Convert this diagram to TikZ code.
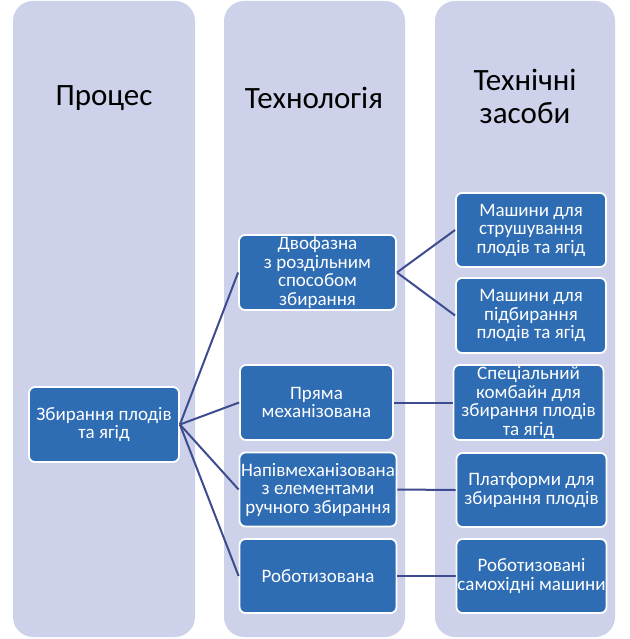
\documentclass[tikz,border=0pt]{standalone}
\usepackage{fontspec}
\setmainfont{Carlito}
\definecolor{colbg}{HTML}{CDD2EA}
\definecolor{boxbg}{HTML}{2E6CB3}
\definecolor{linec}{HTML}{3D4C8E}
\begin{document}
\begin{tikzpicture}[x=1pt,y=-1pt,
  column/.style={fill=colbg, draw=none, rounded corners=20pt},
  header/.style={align=center, font=\fontsize{31}{33}\selectfont, text=black},
  box/.style={draw=white, line width=1.8pt, fill=boxbg, rounded corners=6pt, text=white,
    align=center, font=\fontsize{19}{18.5}\selectfont, inner sep=0pt},
  link/.style={draw=linec, line width=2pt}]
\useasboundingbox (0,0) rectangle (629,639);
\fill[white] (0,0) rectangle (629,639);
% columns
\path[column] (13,1) rectangle (195,637);
\path[column] (224,1) rectangle (405,637);
\path[column] (435,1) rectangle (615,637);
% headers
\node[header] (h1) at (104,98) {Процес};
\node[header] (h2) at (314,98) {Технологія};
\node[header] (h3) at (525,96) {Технічні\\засоби};
% boxes
\node[box, minimum width=150pt, minimum height=75pt] (proc) at (104,424.5) {Збирання плодів\\та ягід};
\node[box, minimum width=157pt, minimum height=75pt] (dvo) at (317.5,272.5) {Двофазна\\з роздільним\\способом\\збирання};
\node[box, minimum width=153pt, minimum height=75pt] (pr) at (316.5,402.5) {Пряма\\механізована};
\node[box, minimum width=157pt, minimum height=74pt] (nap) at (318,489.5) {Напівмеханізована\\з елементами\\ручного збирання};
\node[box, minimum width=157pt, minimum height=74pt] (rob) at (318,576) {Роботизована};
\node[box, minimum width=150pt, minimum height=74pt] (m1) at (531,230) {Машини для\\струшування\\плодів та ягід};
\node[box, minimum width=150pt, minimum height=75pt] (m2) at (531,315.5) {Машини для\\підбирання\\плодів та ягід};
\node[box, minimum width=150pt, minimum height=75pt] (sp) at (528.5,402.5) {Спеціальний\\комбайн для\\збирання плодів\\та ягід};
\node[box, minimum width=150pt, minimum height=74pt] (pl) at (531.5,490) {Платформи для\\збирання плодів};
\node[box, minimum width=150pt, minimum height=74pt] (rs) at (531.5,576) {Роботизовані\\самохідні машини};
% links
\draw[link] (proc.east) -- (dvo.west);
\draw[link] (proc.east) -- (pr.west);
\draw[link] (proc.east) -- (nap.west);
\draw[link] (proc.east) -- (rob.west);
\draw[link] (dvo.east) -- (m1.west);
\draw[link] (dvo.east) -- (m2.west);
\draw[link] (pr.east) -- (sp.west);
\draw[link] (nap.east) -- (pl.west);
\draw[link] (rob.east) -- (rs.west);
\end{tikzpicture}
\end{document}
